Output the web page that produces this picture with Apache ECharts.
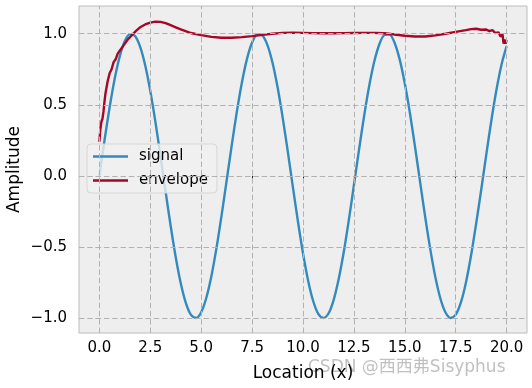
<!DOCTYPE html>
<html><head><meta charset="utf-8">
<script src="https://cdn.jsdelivr.net/npm/echarts@6/dist/echarts.min.js"></script>
<style>html,body{margin:0;padding:0;background:#fff}#c{width:532px;height:388px}</style>
</head><body><div id="c"></div>
<script>
var sigX = [0,0.25,0.5,0.75,1,1.25,1.5,1.75,2,2.25,2.5,2.75,3,3.25,3.5,3.75,4,4.25,4.5,4.75,5,5.25,5.5,5.75,6,6.25,6.5,6.75,7,7.25,7.5,7.75,8,8.25,8.5,8.75,9,9.25,9.5,9.75,10,10.25,10.5,10.75,11,11.25,11.5,11.75,12,12.25,12.5,12.75,13,13.25,13.5,13.75,14,14.25,14.5,14.75,15,15.25,15.5,15.75,16,16.25,16.5,16.75,17,17.25,17.5,17.75,18,18.25,18.5,18.75,19,19.25,19.5,19.75,20];
var sigY = [0,0.247,0.479,0.682,0.841,0.949,0.997,0.984,0.909,0.778,0.598,0.382,0.141,-0.108,-0.351,-0.572,-0.757,-0.895,-0.978,-0.999,-0.959,-0.859,-0.706,-0.508,-0.279,-0.033,0.215,0.450,0.657,0.823,0.938,0.995,0.989,0.922,0.798,0.625,0.412,0.174,-0.075,-0.319,-0.544,-0.735,-0.880,-0.971,-1.000,-0.968,-0.875,-0.727,-0.537,-0.311,-0.066,0.183,0.420,0.632,0.804,0.926,0.991,0.994,0.935,0.818,0.650,0.442,0.206,-0.042,-0.288,-0.515,-0.712,-0.864,-0.961,-0.999,-0.976,-0.892,-0.751,-0.562,-0.338,-0.099,0.150,0.390,0.606,0.784,0.913];
var envX = [0,0.05,0.1,0.15,0.2,0.25,0.3,0.35,0.4,0.5,0.6,0.7,0.8,0.9,1,1.2,1.4,1.6,1.8,2,2.25,2.5,2.75,3,3.25,3.5,3.75,4,4.5,5,5.5,6,6.5,7,7.5,8,8.5,9,9.5,10,10.5,11,11.5,12,12.5,13,13.5,14,14.5,15,15.5,16,16.5,17,17.5,18,18.25,18.5,18.75,19,19.15,19.3,19.45,19.6,19.7,19.8,19.85,19.9,19.95,20];
var envY = [0.24,0.33,0.38,0.40,0.45,0.52,0.58,0.62,0.66,0.72,0.75,0.80,0.82,0.86,0.88,0.92,0.96,0.99,1.02,1.045,1.065,1.078,1.085,1.083,1.075,1.06,1.045,1.03,1.005,0.99,0.978,0.972,0.972,0.976,0.983,0.992,1.0,1.006,1.008,1.006,1.004,1.003,1.003,1.004,1.005,1.006,1.006,1.003,0.995,0.986,0.98,0.98,0.988,1.0,1.013,1.025,1.032,1.035,1.028,1.03,1.018,1.025,1.005,1.01,0.98,0.995,0.93,0.96,0.93,0.955];
var xTicks = [0,2.5,5,7.5,10,12.5,15,17.5,20];
var yTicks = [-1,-0.5,0,0.5,1];
var seriesNames = ['signal','envelope'];

function pairs(xs, ys){ return xs.map(function(x,i){return [x, ys[i]];}); }
function fmt(v){ return v.toFixed(1).replace('-', '\u2212'); }
var FONT = 'DejaVu Sans';
var gridMarks = xTicks.map(function(v){return {xAxis:v};}).concat(yTicks.map(function(v){return {yAxis:v};}));

var chart = echarts.init(document.getElementById('c'), null, {renderer:'canvas'});
chart.setOption({
  animation:false,
  textStyle:{fontFamily:FONT},
  grid:{left:79,right:5,top:6,bottom:55,containLabel:false,outerBoundsMode:'none',show:true,backgroundColor:'#eeeeee',borderColor:'#bcbcbc',borderWidth:1},
  xAxis:{type:'value',min:-1,max:21,
    name:'Location (x)',nameLocation:'middle',nameGap:32,nameMoveOverlap:false,
    nameTextStyle:{fontFamily:FONT,fontSize:17,color:'#000'},
    axisLine:{show:false},
    axisTick:{show:true,customValues:xTicks,length:3.5,lineStyle:{color:'#222',width:1}},
    axisLabel:{customValues:xTicks,formatter:fmt,margin:8,fontFamily:FONT,fontSize:15,color:'#000'},
    splitLine:{show:false}},
  yAxis:{type:'value',min:-1.105,max:1.195,
    name:'Amplitude',nameLocation:'middle',nameGap:56,nameRotate:90,nameMoveOverlap:false,
    nameTextStyle:{fontFamily:FONT,fontSize:17,color:'#000'},
    axisLine:{show:false},
    axisTick:{show:true,customValues:yTicks,length:3.5,lineStyle:{color:'#222',width:1}},
    axisLabel:{customValues:yTicks,formatter:fmt,margin:12,fontFamily:FONT,fontSize:15,color:'#000'},
    splitLine:{show:false}},
  legend:{data:seriesNames,orient:'vertical',left:87,top:144,icon:'rect',
    backgroundColor:'rgba(240,240,240,0.8)',borderColor:'#d6d6d6',borderWidth:1,borderRadius:4,
    padding:[5,9,5,6],itemWidth:35,itemHeight:2.5,itemGap:9,
    textStyle:{fontFamily:FONT,fontSize:15,color:'#000',lineHeight:15,padding:[0,0,0,6]}},
  series:[
    {name:'_grid',type:'line',data:[],z:1,silent:true,
      markLine:{silent:true,symbol:'none',label:{show:false},animation:false,
        lineStyle:{type:[5.5,2.8],color:'#b2b2b2',width:1},data:gridMarks}},
    {name:seriesNames[0],type:'line',data:pairs(sigX,sigY),symbol:'none',smooth:0.3,z:3,
      lineStyle:{color:'#348ABD',width:2.4},itemStyle:{color:'#348ABD'}},
    {name:seriesNames[1],type:'line',data:pairs(envX,envY),symbol:'none',z:4,
      lineStyle:{color:'#A60628',width:2.4},itemStyle:{color:'#A60628'}}
  ],
  graphic:[{type:'text',left:308,top:359,silent:true,
    style:{text:'CSDN @西西弗Sisyphus',font:'17px "DejaVu Sans","Noto Sans CJK SC"',fill:'rgba(140,140,140,0.55)'}}]
});
</script></body></html>
